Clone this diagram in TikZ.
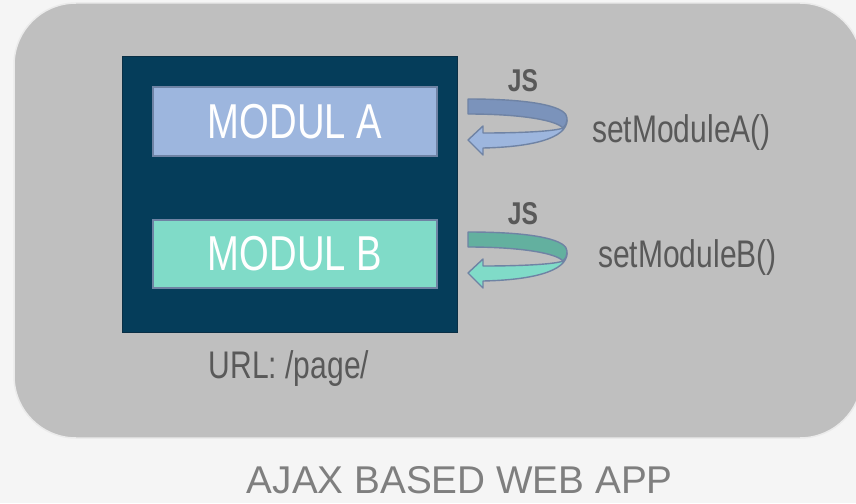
\documentclass[tikz,border=0pt]{standalone}
\usepackage{fontspec}
\setmainfont{Liberation Sans}[FakeStretch=0.78]
\newfontfamily\titlefont{Liberation Sans}
\definecolor{pagebg}{HTML}{F5F5F5}
\definecolor{panel}{HTML}{BFBFBF}
\definecolor{panelrim}{HTML}{EBEBEB}
\definecolor{frame}{HTML}{053D5A}
\definecolor{frameline}{HTML}{0A2F45}
\definecolor{modA}{HTML}{9DB6DE}
\definecolor{modAdark}{HTML}{7B93BB}
\definecolor{modB}{HTML}{80DBC8}
\definecolor{modBdark}{HTML}{63B09F}
\definecolor{modline}{HTML}{6F83A4}
\definecolor{txt}{HTML}{595959}
\definecolor{title}{HTML}{7F7F7F}
\tikzset{
  module/.style={draw=modline, line width=1.5pt, minimum width=284pt,
    text=white, font=\fontsize{49}{49}\selectfont, inner sep=0pt},
  label/.style={text=txt, font=\fontsize{38.5}{38.5}\selectfont, inner sep=0pt},
  jslabel/.style={text=txt, font=\bfseries\fontsize{31.5}{31.5}\selectfont, inner sep=0pt},
  pics/jsloop/.style n args={2}{code={
    % back half of the loop
    \filldraw[fill=#1, draw=modline, line width=1.4pt, line join=round]
      (0,0) .. controls (72,0) and (99,9) .. (99,19)
      .. controls (99,24) and (98,27) .. (95,29)
      .. controls (88,21) and (52,15) .. (0,15) -- cycle;
    % front half with the arrow head
    \filldraw[fill=#2, draw=modline, line width=1.4pt, line join=round]
      (99,21) .. controls (99,40) and (62,48) .. (15,49)
      -- (15,56) -- (0,41) -- (15,27) -- (15,34)
      .. controls (57,34) and (88,32) .. (95,29)
      .. controls (98,27) and (99,24) .. (99,21) -- cycle;
  }}
}
\begin{document}
\begin{tikzpicture}[x=1pt, y=-1pt]
  \fill[pagebg] (0,0) rectangle (856,503);
  \useasboundingbox (0,0) rectangle (856,503);
  \filldraw[fill=panel, draw=panelrim, line width=1.5pt, rounded corners=62pt]
    (14,3) rectangle (862,438);

  \node[fill=frame, draw=frameline, line width=1pt, minimum width=335pt,
        minimum height=275pt, inner sep=0pt] (page) at (289.5,194.5) {};
  \node[module, fill=modA, minimum height=69pt] (modA) at (295,121.5) {MODUL A};
  \node[module, fill=modB, minimum height=68pt] (modB) at (295,254) {MODUL B};

  \node[label, anchor=base] (url) at (289,378) {URL: /page/};

  \pic at (468,99) {jsloop={modAdark}{modA}};
  \pic at (468,232) {jsloop={modBdark}{modB}};

  \node[jslabel, anchor=base] (jsA) at (523,92) {JS};
  \node[jslabel, anchor=base] (jsB) at (523,224) {JS};
  \node[label, anchor=base west] (setA) at (592,142) {setModuleA()};
  \node[label, anchor=base west] (setB) at (598,267) {setModuleB()};

  \node[text=title, font=\titlefont\fontsize{38.7}{38.7}\selectfont, inner sep=0pt,
        anchor=base east] (app) at (673,493) {AJAX BASED WEB APP};
\end{tikzpicture}
\end{document}
